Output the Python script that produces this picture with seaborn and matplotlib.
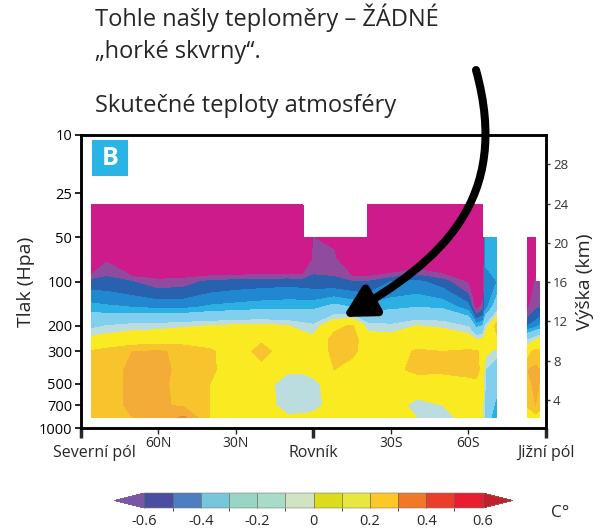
import numpy as np
import matplotlib
matplotlib.use("Agg")
import matplotlib.pyplot as plt
import seaborn as sns
from matplotlib.colors import ListedColormap, BoundaryNorm
from matplotlib.cm import ScalarMappable
from matplotlib.patches import Rectangle, FancyArrowPatch
from matplotlib.path import Path
from matplotlib.ticker import NullLocator

nan = np.nan

# pressure levels (hPa), surface -> stratosphere
pressure = [850, 700, 500, 400, 300, 250, 200, 150, 100, 70, 50, 30]

# latitude columns of the main block (N > 0, S < 0)
lat_main = [86, 80, 70, 60, 50, 40, 30, 20, 10, 4, 0, -8, -15, -21,
            -30, -40, -50, -60, -63, -65.6, -66.5, -71]

# temperature trend (C) per pressure level, main block
t30 = [-1.0, -1.0, -1.0, -1.0, -1.0, -1.0, -1.0, -1.0, -1.0, -1.0, nan, nan, nan, -1.0,
       -1.0, -1.0, -1.0, -1.0, -1.0, -1.0, nan, nan]
t50 = [-1.0, -0.95, -1.0, -1.0, -1.0, -1.0, -1.0, -1.0, -1.0, -1.0, -0.7, -0.75, -1.0, -1.0,
       -1.0, -1.0, -1.0, -1.0, -1.0, -1.0, -0.35, -0.32]
t70 = [-1.0, -0.72, -1.0, -1.0, -1.0, -1.0, -1.0, -1.0, -1.0, -1.0, -0.68, -0.66, -1.0, -1.0,
       -1.0, -0.85, -0.95, -1.0, -1.0, -1.0, -0.38, -0.34]
t100 = [-0.56, -0.56, -0.6, -0.66, -0.64, -0.58, -0.56, -0.55, -0.54, -0.55, -0.56, -0.58, -0.6, -0.6,
        -0.5, -0.48, -0.55, -0.72, -0.9, -0.85, -0.45, -0.4]
t150 = [-0.36, -0.38, -0.4, -0.42, -0.42, -0.38, -0.36, -0.34, -0.33, -0.33, -0.33, -0.25, -0.3, -0.36,
        -0.33, -0.3, -0.32, -0.45, -0.75, -0.65, -0.45, -0.2]
t200 = [-0.14, -0.1, -0.06, -0.05, -0.02, 0.0, 0.02, 0.03, 0.0, -0.05, -0.08, 0.15, 0.22, -0.05,
        -0.08, 0.0, -0.02, -0.12, -0.35, -0.3, -0.1, 0.28]
t250 = [0.05, 0.08, 0.12, 0.14, 0.14, 0.14, 0.1, 0.18, 0.1, 0.08, 0.05, 0.26, 0.28, 0.08,
        0.08, 0.12, 0.1, 0.1, 0.0, 0.05, 0.1, 0.15]
t300 = [0.21, 0.25, 0.3, 0.31, 0.28, 0.22, 0.12, 0.25, 0.12, 0.1, 0.08, 0.24, 0.24, 0.12,
        0.12, 0.22, 0.2, 0.22, 0.22, 0.15, 0.05, -0.05]
t400 = [0.22, 0.26, 0.32, 0.32, 0.28, 0.22, 0.14, 0.15, 0.02, 0.02, 0.05, 0.2, 0.12, 0.12,
        0.15, 0.24, 0.23, 0.25, 0.28, 0.1, -0.1, -0.2]
t500 = [0.22, 0.26, 0.32, 0.32, 0.27, 0.2, 0.12, 0.06, -0.06, -0.06, -0.04, 0.08, 0.12, 0.1,
        0.1, 0.1, 0.12, 0.15, 0.15, 0.05, -0.1, -0.25]
t700 = [0.22, 0.26, 0.32, 0.32, 0.28, 0.2, 0.12, 0.06, -0.05, -0.06, -0.04, 0.05, 0.1, 0.1,
        0.08, -0.05, 0.0, 0.05, 0.1, 0.0, -0.15, -0.35]
t850 = [0.21, 0.25, 0.3, 0.34, 0.42, 0.2, 0.12, 0.08, 0.02, 0.03, 0.04, 0.08, 0.1, 0.1,
        0.1, 0.0, -0.02, 0.02, 0.1, 0.0, -0.2, -0.4]

# narrow strip near the south pole, one column per latitude (same pressure order)
lat_pole = [-83, -86, -87.3]
pole_83 = [0.1, 0.22, 0.28, 0.3, 0.15, -0.1, -0.5, -0.72, -0.85, -0.9, -0.95, nan]
pole_86 = [0.15, 0.3, 0.32, 0.32, 0.25, 0.0, -0.45, -0.62, -0.68, -0.8, -0.9, nan]
pole_87 = [0.12, 0.25, 0.3, 0.3, 0.22, 0.05, -0.4, -0.6, -0.66, nan, nan, nan]

# colour classes used in the map
plot_levels = [-2, -0.7, -0.6, -0.5, -0.4, -0.3, -0.1, 0, 0.2, 0.3, 0.4, 2]
plot_colors = ['#cd1b8b', '#8f4c9f', '#2862ae', '#2188cf', '#2cb0e4', '#80cfee',
               '#bcdde0', '#f9ea22', '#f8c42e', '#f3ac38', '#e48f2a']

# colour bar
cbar_bounds = [-0.6, -0.5, -0.4, -0.3, -0.2, -0.1, 0, 0.1, 0.2, 0.3, 0.4, 0.5, 0.6]
cbar_colors = ['#4a4ea0', '#4c7ec0', '#78c6dc', '#9ad4c4', '#a8dcc8', '#d0e4c4',
               '#dcdc1c', '#e8e640', '#fcc828', '#f07828', '#ec3c2c', '#e81e30']
cbar_under = '#7a55a8'
cbar_over = '#c4202c'
cbar_ticks = [-0.6, -0.4, -0.2, 0, 0.2, 0.4, 0.6]
cbar_labels = ['-0.6', '-0.4', '-0.2', '0', '0.2', '0.4', '0.6']

# axes ticks
p_ticks = [10, 25, 50, 100, 200, 300, 500, 700, 1000]
km_ticks = [4, 8, 12, 16, 20, 24, 28]
lat_ticks = [60, 30, -30, -60]
lat_labels = ['60N', '30N', '30S', '60S']
lat_marks = [90, 0, -90]

sns.set_style("ticks")
plt.rcParams['font.family'] = ['Open Sans', 'DejaVu Sans']

W, H = 608, 528
fig = plt.figure(figsize=(W / 100, H / 100), dpi=100)
fig.patch.set_facecolor('white')

ax = fig.add_axes([80.7 / W, 1 - 428 / H, 465.3 / W, 293 / H])

main = np.ma.masked_invalid(np.array([t850, t700, t500, t400, t300, t250, t200,
                                      t150, t100, t70, t50, t30]))
pole = np.ma.masked_invalid(np.array([pole_83, pole_86, pole_87]).T)

ax.contourf(lat_main, pressure, main, levels=plot_levels, colors=plot_colors,
            corner_mask=False)
ax.contourf(lat_pole, pressure, pole, levels=plot_levels, colors=plot_colors,
            corner_mask=False)

ax.set_yscale('log')
ax.set_ylim(1000, 10)
ax.set_xlim(90, -90)
ax.yaxis.set_minor_locator(NullLocator())
ax.set_yticks(p_ticks, [str(p) for p in p_ticks])
ax.set_xticks(lat_ticks, lat_labels)
ax.set_xticks(lat_marks, minor=True)
ax.tick_params(axis='y', which='major', length=4, width=1.2, pad=2, labelsize=10.5,
               colors='black')
ax.tick_params(axis='x', which='major', length=4, width=1.0, pad=1.5, labelsize=10)
ax.tick_params(axis='x', which='minor', length=7, width=2.5, labelbottom=False)
ax.set_ylabel('Tlak (Hpa)', fontsize=14, labelpad=3)
for s in ax.spines.values():
    s.set_linewidth(1.8)
    s.set_color('black')

# pole / equator names under the axis
xt = ax.get_xaxis_transform()
ax.text(84.5, -0.085, 'Severní pól', transform=xt, ha='center', va='center', fontsize=11.5)
ax.text(0, -0.085, 'Rovník', transform=xt, ha='center', va='center', fontsize=11.5)
ax.text(-90, -0.085, 'Jižní pól', transform=xt, ha='center', va='center', fontsize=11.5)

# right axis: height in km
ax2 = ax.twinx()
ax2.set_ylim(1.14, 31.0)
ax2.set_yticks(km_ticks, [str(k) for k in km_ticks])
ax2.tick_params(axis='y', length=3, width=1.0, pad=2, labelsize=9.5,
                colors='#333333')
ax2.set_ylabel('Výška (km)', fontsize=14, labelpad=6)
for s in ax2.spines.values():
    s.set_linewidth(1.8)
    s.set_color('black')

# panel badge
ax.add_patch(Rectangle((0.0243, 0.860), 0.0774, 0.1229, transform=ax.transAxes,
                       facecolor='#29b4e6', edgecolor='none', zorder=5))
ax.text(0.063, 0.921, 'B', transform=ax.transAxes, ha='center', va='center',
        color='white', fontsize=18, fontweight='bold', zorder=6)

# headline text
fig.text(95 / W, 1 - 26 / H, 'Tohle našly teploměry – ŽÁDNÉ', va='baseline', fontsize=17)
fig.text(95 / W, 1 - 58 / H, '„horké skvrny“.', va='baseline', fontsize=17)
fig.text(95 / W, 1 - 112 / H, 'Skutečné teploty atmosféry', va='baseline', fontsize=17)

# curved pointer
pts = [(476, 70), (512, 200), (440, 262), (343, 317)]
verts = [(x / W, 1 - y / H) for x, y in pts]
arrow = FancyArrowPatch(path=Path(verts, [Path.MOVETO, Path.CURVE4, Path.CURVE4, Path.CURVE4]),
                        arrowstyle='-|>,head_length=1.3,head_width=0.7',
                        mutation_scale=14, lw=5.8, color='black',
                        transform=fig.transFigure, zorder=10)
fig.add_artist(arrow)

# colour bar
cmap = ListedColormap(cbar_colors)
cmap.set_under(cbar_under)
cmap.set_over(cbar_over)
norm = BoundaryNorm(cbar_bounds, cmap.N)
cax = fig.add_axes([114 / W, 1 - 508 / H, 399 / W, 15 / H])
cb = fig.colorbar(ScalarMappable(norm=norm, cmap=cmap), cax=cax, orientation='horizontal',
                  extend='both', extendfrac=0.09, drawedges=True)
cb.set_ticks(cbar_ticks, labels=cbar_labels)
cb.ax.tick_params(length=0, pad=4, labelsize=10.5)
cb.outline.set_linewidth(0.4)
cb.outline.set_edgecolor('#777777')
cb.dividers.set_color('#666666')
cb.dividers.set_linewidth(0.5)
fig.text(551 / W, 1 - 513 / H, 'C°', va='center', ha='left', fontsize=12.5)

fig.savefig('out.png', dpi=100)
